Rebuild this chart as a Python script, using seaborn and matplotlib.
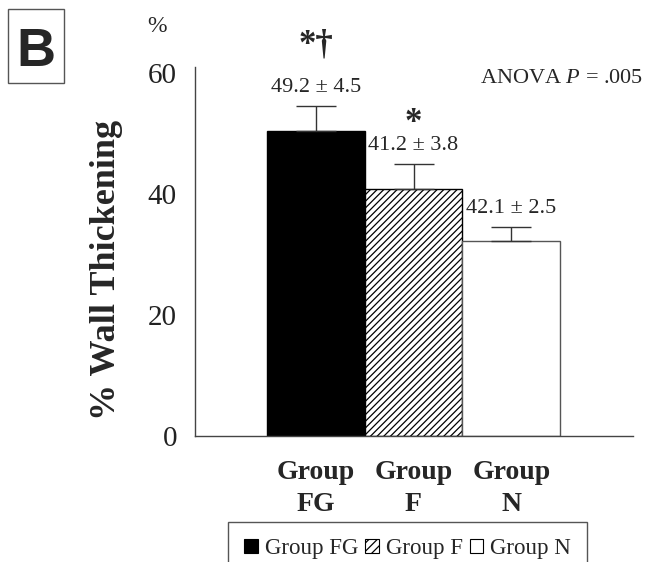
import pandas as pd
import matplotlib.pyplot as plt
import seaborn as sns
from matplotlib.patches import Patch, Rectangle

# values
groups = ['FG', 'F', 'N']
wall_thickening = [50.4, 40.8, 32.3]
err_upper = [4.1, 4.2, 2.2]
value_labels = ['49.2 \u00b1 4.5', '41.2 \u00b1 3.8', '42.1 \u00b1 2.5']
sig_marks = ['*\u2020', '*', '']
y_ticks = [0, 20, 40, 60]

df = pd.DataFrame({'group': ['Group\n' + g for g in groups],
                   'value': wall_thickening})

sns.set_style('white')
plt.rcParams['font.family'] = ['Liberation Serif', 'DejaVu Serif']
plt.rcParams['mathtext.fontset'] = 'custom'
plt.rcParams['mathtext.rm'] = 'Liberation Serif'
plt.rcParams['mathtext.it'] = 'Liberation Serif:italic'
plt.rcParams['hatch.linewidth'] = 0.9

fill_colors = ['black', 'white', 'white']
edge_colors = ['black', 'black', '#555555']
hatches = ['', '/////', '']

fig = plt.figure(figsize=(6.49, 5.62), dpi=100)
ax = fig.add_axes([0.3005, 0.2242, 0.6748, 0.6459])

sns.barplot(data=df, x='group', y='value', hue='group',
            palette=dict(zip(df['group'], fill_colors)),
            width=1.0, linewidth=1, errorbar=None, legend=False, ax=ax)
for bar, ec, h in zip(ax.patches, edge_colors, hatches):
    bar.set_edgecolor(ec)
    bar.set_hatch(h)

xpos = list(range(len(groups)))
ax.errorbar(xpos, wall_thickening, yerr=[[0] * len(groups), err_upper],
            fmt='none', ecolor='#333333', elinewidth=1, capsize=14.4,
            capthick=1, zorder=3)

# value labels and significance marks
sig_offsets = [38, 23, 23]
for x, v, e, lab, mark, off in zip(xpos, wall_thickening, err_upper,
                                   value_labels, sig_marks, sig_offsets):
    ax.annotate(lab, (x, v + e), xytext=(0, 13.5), textcoords='offset points',
                ha='center', va='center', fontsize=16, annotation_clip=False)
    if mark:
        ax.annotate(mark, (x, v + e), xytext=(0, off),
                    textcoords='offset points', ha='center', va='baseline',
                    fontsize=25, fontweight='bold', annotation_clip=False)

ax.set_xlim(-1.235, 3.245)
ax.set_ylim(0, 60)
ax.set_yticks(y_ticks)
ax.set_xticks([3.245], minor=True)
ax.tick_params(axis='y', direction='out', length=5, width=1, color='#444444',
               labelsize=21, pad=8, labelcolor='#222222')
ax.tick_params(axis='x', which='major', length=0, labelsize=20, pad=17)
ax.tick_params(axis='x', which='minor', direction='in', length=6, width=1,
               color='#444444')
for lbl in ax.get_xticklabels():
    lbl.set_fontweight('bold')
    lbl.set_linespacing(1.4)

sns.despine(ax=ax)
for side in ['left', 'bottom']:
    ax.spines[side].set_color('#444444')
    ax.spines[side].set_linewidth(1)
ax.spines['left'].set_bounds(0, 61)

ax.set_xlabel('')
ax.set_ylabel('% Wall Thickening', fontsize=26, fontweight='bold')
ax.yaxis.set_label_coords(-0.164, 0.457)

fig.text(0.242, 0.952, '%', fontsize=17, ha='center', va='center')
fig.text(0.991, 0.861, 'ANOVA $P$ = .005', fontsize=16, ha='right', va='center')

# panel letter
fig.add_artist(Rectangle((8 / 649, 1 - 83 / 562), 56 / 649, 74 / 562,
                         transform=fig.transFigure, fill=False,
                         edgecolor='#555555', linewidth=1))
fig.text(36 / 649, 1 - 66 / 562, 'B', fontsize=39, fontweight='bold',
         family='Liberation Sans', ha='center', va='baseline')

handles = [Patch(facecolor=fc, edgecolor=ec, hatch=h, linewidth=0.8)
           for fc, ec, h in zip(fill_colors, ['black', 'black', 'black'],
                                ['', '////', ''])]
fig.legend(handles, ['Group ' + g for g in groups], loc='upper center',
           bbox_to_anchor=(0.628, 0.071), ncol=3, fontsize=16.5, frameon=True,
           fancybox=False, edgecolor='#555555', framealpha=1,
           handlelength=0.6, handleheight=0.6, handletextpad=0.3,
           columnspacing=0.3, borderpad=0.7, borderaxespad=0)

fig.savefig('out.png', dpi=100)
